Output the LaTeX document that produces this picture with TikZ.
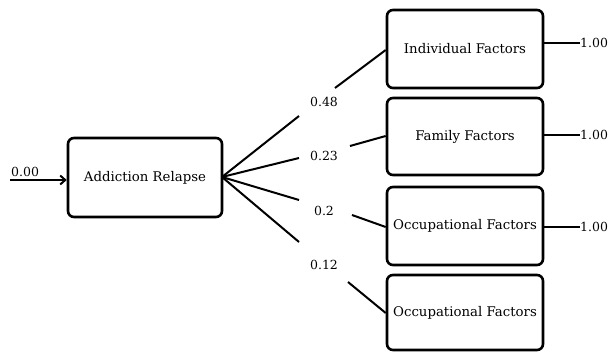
\documentclass[tikz,border=0pt]{standalone}
\usepackage{fontspec}
\setmainfont{DejaVu Serif}
\usetikzlibrary{arrows.meta}
\begin{document}
\begin{tikzpicture}[x=1pt,y=-1pt,
  box/.style={draw, line width=2.6pt, rounded corners=6pt, inner sep=0pt},
  conn/.style={line width=2pt},
  lbl/.style={font=\fontsize{12.5}{14}\selectfont, inner sep=1pt},
  btxt/.style={font=\fontsize{13.3}{15}\selectfont}]
\useasboundingbox (0,0) rectangle (611,352);
\node[box, minimum width=154pt, minimum height=79pt, btxt] (ar) at (145,177.5) {Addiction Relapse};
\node[box, minimum width=156pt, minimum height=78pt, btxt] (b1) at (465,49) {Individual Factors};
\node[box, minimum width=156pt, minimum height=77pt, btxt] (b2) at (465,136.5) {Family Factors};
\node[box, minimum width=156pt, minimum height=78pt, btxt] (b3) at (465,226) {Occupational Factors};
\node[box, minimum width=156pt, minimum height=75pt, btxt] (b4) at (465,312.5) {Occupational Factors};
\coordinate (in) at (10,180);
\node[lbl, anchor=south west] (l0) at (10,178) {0.00};
\draw[conn, -{Straight Barb[length=5pt,width=9pt]}] (in) -- (ar.west |- in);
\coordinate (o) at (222,177);
\coordinate (e1) at (299,116); \coordinate (s1) at (335,88);
\coordinate (e2) at (299,158); \coordinate (s2) at (350,146);
\coordinate (e3) at (299,200); \coordinate (s3) at (352,215);
\coordinate (e4) at (299,242); \coordinate (s4) at (348,282);
\node[lbl] (w1) at (324,102) {0.48};
\node[lbl] (w2) at (324,156) {0.23};
\node[lbl] (w3) at (324,211) {0.2};
\node[lbl] (w4) at (324,265) {0.12};
\draw[conn] (o) -- (e1); \draw[conn] (s1) -- (b1.west |- 0,50);
\draw[conn] (o) -- (e2); \draw[conn] (s2) -- (b2.west |- 0,136);
\draw[conn] (o) -- (e3); \draw[conn] (s3) -- (b3.west |- 0,227);
\draw[conn] (o) -- (e4); \draw[conn] (s4) -- (b4.west |- 0,313);
\coordinate (r1) at (580,43); \coordinate (r2) at (580,135); \coordinate (r3) at (580,227);
\draw[conn] (b1.east |- r1) -- (r1);
\draw[conn] (b2.east |- r2) -- (r2);
\draw[conn] (b3.east |- r3) -- (r3);
\node[lbl, anchor=west, inner sep=0pt] (v1) at (r1) {1.00};
\node[lbl, anchor=west, inner sep=0pt] (v2) at (r2) {1.00};
\node[lbl, anchor=west, inner sep=0pt] (v3) at (r3) {1.00};
\end{tikzpicture}
\end{document}
